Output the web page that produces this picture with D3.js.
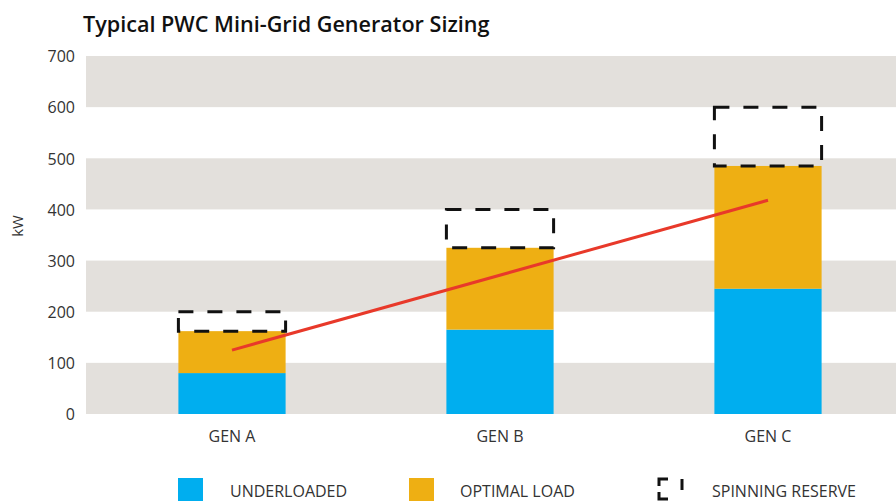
<!DOCTYPE html>
<html>
<head>
<meta charset="utf-8">
<script src="https://cdnjs.cloudflare.com/ajax/libs/d3/7.8.5/d3.min.js"></script>
<style>
body{margin:0;background:#fff;}
</style>
</head>
<body>
<div id="chart"></div>
<script>
var svg_width=896
	svg_height=501;

// data
var gens=["GEN A","GEN B","GEN C"];
var underloaded=[80,165,245];
var optimal_load=[82,160,240];
var spinning_top=[200,400,600];
var trend=[125,272,418];
var y_ticks=[0,100,200,300,400,500,600,700];
var bands=[[0,100],[200,300],[400,500],[600,700]];

var blue="#00aeef"
	orange="#eeaf13"
	band_grey="#e3e0dc"
	red="#e8392a"
	txt="#333";

var font="'Open Sans', 'Noto Sans', sans-serif";

var svg=d3.select("#chart").append("svg")
		.attr("width",svg_width)
		.attr("height",svg_height);

var y=d3.scaleLinear().domain([0,700]).range([414,56]);
var x=d3.scaleBand().domain(gens).range([98,902]).paddingInner(0.6).paddingOuter(0.3);

// grey bands
svg.append("g").selectAll("rect")
	.data(bands)
	.enter().append("rect")
		.attr("x",86)
		.attr("width",svg_width-86)
		.attr("y",function(d){return y(d[1]);})
		.attr("height",function(d){return y(d[0])-y(d[1]);})
		.attr("fill",band_grey);

// title
svg.append("text")
	.attr("x",83)
	.attr("y",32)
	.attr("font-size","21.6px")
	.attr("font-weight","600")
	.attr("font-family",font)
	.attr("fill","#111")
	.text("Typical PWC Mini-Grid Generator Sizing");

// y axis labels
svg.append("g").selectAll("text")
	.data(y_ticks)
	.enter().append("text")
		.attr("x",75)
		.attr("y",function(d){return y(d)+2;})
		.attr("text-anchor","end")
		.attr("dominant-baseline","middle")
		.attr("font-size","16px")
		.attr("font-family",font)
		.attr("fill",txt)
		.text(function(d){return d;});

svg.append("text")
	.attr("transform","translate(23,226) rotate(-90)")
	.attr("text-anchor","middle")
	.attr("font-size","15px")
	.attr("font-family",font)
	.attr("fill",txt)
	.text("kW");

// bars
var bars=svg.append("g");
bars.selectAll(".under")
	.data(gens)
	.enter().append("rect")
		.attr("class","under")
		.attr("x",function(d){return x(d);})
		.attr("width",x.bandwidth())
		.attr("y",function(d,i){return y(underloaded[i]);})
		.attr("height",function(d,i){return y(0)-y(underloaded[i]);})
		.attr("fill",blue);

bars.selectAll(".opt")
	.data(gens)
	.enter().append("rect")
		.attr("class","opt")
		.attr("x",function(d){return x(d);})
		.attr("width",x.bandwidth())
		.attr("y",function(d,i){return y(underloaded[i]+optimal_load[i]);})
		.attr("height",function(d,i){return y(underloaded[i])-y(underloaded[i]+optimal_load[i]);})
		.attr("fill",orange);

// spinning reserve dashed boxes
bars.selectAll(".spin")
	.data(gens)
	.enter().append("rect")
		.attr("class","spin")
		.attr("x",function(d){return x(d);})
		.attr("width",x.bandwidth())
		.attr("y",function(d,i){return y(spinning_top[i]);})
		.attr("height",function(d,i){return y(underloaded[i]+optimal_load[i])-y(spinning_top[i]);})
		.attr("fill","none")
		.attr("stroke","#111")
		.attr("stroke-width",3)
		.attr("stroke-dasharray","15,14");

// trend line (first to last generator)
var line=d3.line()
	.x(function(d){return x(d.g)+x.bandwidth()/2;})
	.y(function(d){return y(d.v);});

var trend_pts=[{g:gens[0],v:trend[0]},{g:gens[gens.length-1],v:trend[trend.length-1]}];
svg.append("path")
	.datum(trend_pts)
	.attr("d",line)
	.attr("fill","none")
	.attr("stroke",red)
	.attr("stroke-width",3);

// x labels
svg.append("g").selectAll("text")
	.data(gens)
	.enter().append("text")
		.attr("x",function(d){return x(d)+x.bandwidth()/2;})
		.attr("y",442)
		.attr("text-anchor","middle")
		.attr("font-size","16px")
		.attr("font-family",font)
		.attr("fill",txt)
		.text(function(d){return d;});

// legend
var legend=svg.append("g");
legend.append("rect")
	.attr("x",178).attr("y",478).attr("width",25).attr("height",24)
	.attr("fill",blue);
legend.append("text")
	.attr("x",230).attr("y",497)
	.attr("font-size","16px").attr("font-family",font).attr("fill",txt)
	.text("UNDERLOADED");
legend.append("rect")
	.attr("x",409).attr("y",478).attr("width",25).attr("height",24)
	.attr("fill",orange);
legend.append("text")
	.attr("x",460).attr("y",497)
	.attr("font-size","16px").attr("font-family",font).attr("fill",txt)
	.text("OPTIMAL LOAD");
legend.append("path")
	.attr("d","M659,486 L659,479 L668,479 M659,492 L659,499 L668,499 M682,479 L682,490")
	.attr("fill","none")
	.attr("stroke","#111")
	.attr("stroke-width",3);
legend.append("text")
	.attr("x",712).attr("y",497)
	.attr("font-size","16px").attr("font-family",font).attr("fill",txt)
	.text("SPINNING RESERVE");
</script>
</body>
</html>
